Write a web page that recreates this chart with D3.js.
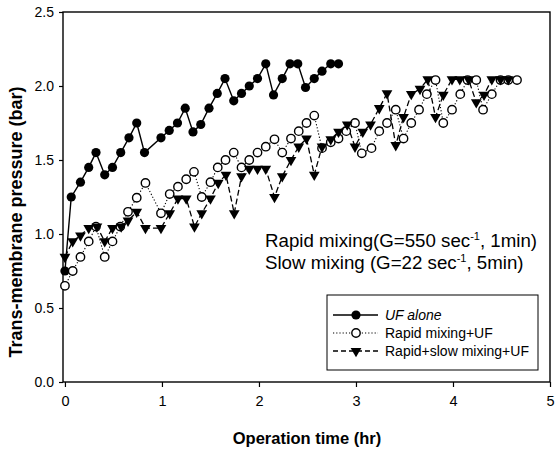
<!DOCTYPE html>
<html>
<head>
<meta charset="utf-8">
<script src="https://cdn.jsdelivr.net/npm/d3@7/dist/d3.min.js"></script>
<style>
  html, body { margin: 0; padding: 0; background: #fff; }
  svg { display: block; }
  text { font-family: Arial, "Liberation Sans", Helvetica, sans-serif; fill: #000; }
</style>
</head>
<body>
<svg id="chart" width="555" height="450"></svg>
<script>
// ---- data ----
const ufTime = [0, 0.065, 0.16, 0.245, 0.32, 0.41, 0.49, 0.575, 0.66, 0.74, 0.82, 0.99, 1.075, 1.16, 1.24, 1.32, 1.40, 1.485, 1.57, 1.65, 1.74, 1.82, 1.90, 1.985, 2.07, 2.15, 2.24, 2.32, 2.40, 2.48, 2.57, 2.65, 2.74, 2.82];
const ufTMP  = [0.75, 1.25, 1.35, 1.45, 1.55, 1.40, 1.45, 1.55, 1.65, 1.75, 1.55, 1.65, 1.70, 1.75, 1.85, 1.69, 1.74, 1.85, 1.95, 2.05, 1.90, 1.95, 2.00, 2.05, 2.15, 1.94, 2.05, 2.15, 2.15, 1.99, 2.05, 2.10, 2.15, 2.15];

const rapidTime = [0, 0.08, 0.16, 0.245, 0.32, 0.41, 0.49, 0.57, 0.65, 0.74, 0.83, 0.99, 1.08, 1.165, 1.25, 1.33, 1.41, 1.50, 1.575, 1.655, 1.74, 1.82, 1.90, 1.985, 2.07, 2.16, 2.24, 2.33, 2.41, 2.49, 2.57, 2.65, 2.74, 2.82, 2.90, 2.99, 3.06, 3.16, 3.24, 3.32, 3.41, 3.49, 3.57, 3.65, 3.73, 3.82, 3.90, 3.99, 4.075, 4.15, 4.24, 4.31, 4.40, 4.49, 4.57, 4.66];
const rapidTMP  = [0.65, 0.75, 0.845, 0.95, 1.05, 0.845, 0.95, 1.05, 1.15, 1.245, 1.345, 1.14, 1.27, 1.32, 1.37, 1.42, 1.25, 1.35, 1.45, 1.50, 1.55, 1.45, 1.50, 1.55, 1.59, 1.64, 1.55, 1.645, 1.695, 1.75, 1.80, 1.58, 1.62, 1.645, 1.695, 1.75, 1.545, 1.58, 1.695, 1.75, 1.84, 1.645, 1.75, 1.84, 1.945, 2.04, 1.75, 1.84, 1.945, 2.04, 2.04, 1.84, 1.945, 2.04, 2.04, 2.04];

const slowTime = [0, 0.08, 0.16, 0.245, 0.33, 0.41, 0.49, 0.58, 0.65, 0.74, 0.83, 0.99, 1.08, 1.165, 1.25, 1.335, 1.41, 1.50, 1.58, 1.66, 1.745, 1.82, 1.90, 1.985, 2.07, 2.16, 2.24, 2.33, 2.41, 2.49, 2.57, 2.65, 2.74, 2.82, 2.91, 2.99, 3.07, 3.15, 3.24, 3.32, 3.41, 3.49, 3.57, 3.66, 3.74, 3.82, 3.90, 3.99, 4.07, 4.16, 4.24, 4.32, 4.40, 4.49, 4.57];
const slowTMP  = [0.845, 0.95, 0.99, 1.04, 1.05, 0.95, 1.04, 1.05, 1.09, 1.15, 1.04, 1.04, 1.14, 1.24, 1.24, 1.05, 1.14, 1.24, 1.345, 1.40, 1.14, 1.39, 1.44, 1.44, 1.44, 1.25, 1.39, 1.50, 1.59, 1.645, 1.40, 1.59, 1.64, 1.69, 1.74, 1.59, 1.69, 1.74, 1.85, 1.95, 1.60, 1.79, 1.945, 1.98, 2.045, 1.79, 1.94, 2.045, 2.045, 2.045, 1.89, 1.94, 2.045, 2.045, 2.045];

const xTicks = [0, 1, 2, 3, 4, 5];
const yTicks = [0.0, 0.5, 1.0, 1.5, 2.0, 2.5];
const seriesNames = ["UF alone", "Rapid mixing+UF", "Rapid+slow mixing+UF"];

// ---- layout ----
const L = 63, R = 550, T = 12, B = 382;
const svg = d3.select("#chart");
const x = d3.scaleLinear().domain([-0.02, 5]).range([L, R]);
const y = d3.scaleLinear().domain([0, 2.5]).range([B, T]);

// axes
const yAxis = d3.axisLeft(y).tickValues(yTicks).tickFormat(d3.format(".1f")).tickSize(4).tickPadding(5);
const gy = svg.append("g").attr("transform", `translate(${L},0)`).call(yAxis);
gy.select(".domain").remove();
gy.selectAll("text").style("font-size", "14px");

const xAxis = d3.axisBottom(x).tickValues(xTicks).tickFormat(d3.format("d")).tickSize(5).tickPadding(9);
const gx = svg.append("g").attr("transform", `translate(0,${B})`).call(xAxis);
gx.select(".domain").remove();
gx.selectAll("text").style("font-size", "14.5px");
svg.selectAll(".tick line").attr("stroke", "#000").attr("stroke-width", 1.2);

// frame
svg.append("rect").attr("x", L).attr("y", T).attr("width", R - L).attr("height", B - T)
  .attr("fill", "none").attr("stroke", "#000").attr("stroke-width", 1.4);

// axis titles
svg.append("text").attr("x", 307).attr("y", 444).attr("text-anchor", "middle")
  .style("font-size", "16.5px").style("font-weight", "bold").text("Operation time (hr)");
svg.append("text").attr("transform", "translate(22,222) rotate(-90)").attr("text-anchor", "middle")
  .style("font-size", "18px").style("font-weight", "bold").text("Trans-membrane pressure (bar)");

// series
const line = d3.line().x(d => x(d[0])).y(d => y(d[1]));
const uf = ufTime.map((t, i) => [t, ufTMP[i]]);
const rapid = rapidTime.map((t, i) => [t, rapidTMP[i]]);
const slow = slowTime.map((t, i) => [t, slowTMP[i]]);

svg.append("path").datum(slow).attr("d", line).attr("fill", "none").attr("stroke", "#000")
  .attr("stroke-width", 1.3).attr("stroke-dasharray", "6,3");
svg.append("path").datum(rapid).attr("d", line).attr("fill", "none").attr("stroke", "#000")
  .attr("stroke-width", 1.1).attr("stroke-dasharray", "1.2,2");
svg.append("path").datum(uf).attr("d", line).attr("fill", "none").attr("stroke", "#000")
  .attr("stroke-width", 1.4);

const tri = d3.symbol().type(d3.symbolTriangle).size(50);

svg.append("g").selectAll("circle").data(uf).join("circle")
  .attr("cx", d => x(d[0])).attr("cy", d => y(d[1])).attr("r", 4.6).attr("fill", "#000");
svg.append("g").selectAll("circle").data(rapid).join("circle")
  .attr("cx", d => x(d[0])).attr("cy", d => y(d[1])).attr("r", 4.2)
  .attr("fill", "#fff").attr("stroke", "#000").attr("stroke-width", 1.4);
svg.append("g").selectAll("path").data(slow).join("path")
  .attr("d", tri).attr("transform", d => `translate(${x(d[0])},${y(d[1])}) rotate(180)`)
  .attr("fill", "#000");

// annotation
const ann = svg.append("g").style("font-size", "18.7px");
const a1 = ann.append("text").attr("x", 265).attr("y", 247);
a1.append("tspan").text("Rapid mixing(G=550 sec");
a1.append("tspan").attr("dy", -7).style("font-size", "11px").text("-1");
a1.append("tspan").attr("dy", 7).text(", 1min)");
const a2 = ann.append("text").attr("x", 265).attr("y", 269);
a2.append("tspan").text("Slow mixing (G=22 sec");
a2.append("tspan").attr("dy", -7).style("font-size", "11px").text("-1");
a2.append("tspan").attr("dy", 7).text(", 5min)");

// legend
const lg = svg.append("g");
lg.append("rect").attr("x", 327).attr("y", 295).attr("width", 211).attr("height", 75)
  .attr("fill", "#fff").attr("stroke", "#000").attr("stroke-width", 1);
const legY = [315, 333, 351];
const dashes = [null, "1.2,2", "5,3"];
seriesNames.forEach((name, i) => {
  const ly = legY[i];
  lg.append("line").attr("x1", 333).attr("x2", 378).attr("y1", ly).attr("y2", ly)
    .attr("stroke", "#000").attr("stroke-width", i === 1 ? 1.1 : 1.3)
    .attr("stroke-dasharray", dashes[i]);
  if (i === 0) {
    lg.append("circle").attr("cx", 356).attr("cy", ly).attr("r", 4.6).attr("fill", "#000");
  } else if (i === 1) {
    lg.append("circle").attr("cx", 356).attr("cy", ly).attr("r", 4.2).attr("fill", "#fff")
      .attr("stroke", "#000").attr("stroke-width", 1.4);
  } else {
    lg.append("path").attr("d", tri).attr("transform", `translate(356,${ly}) rotate(180)`).attr("fill", "#000");
  }
  lg.append("text").attr("x", 385).attr("y", ly + 5).style("font-size", "14px")
    .style("font-style", i === 0 ? "italic" : "normal").text(name);
});
</script>
</body>
</html>
